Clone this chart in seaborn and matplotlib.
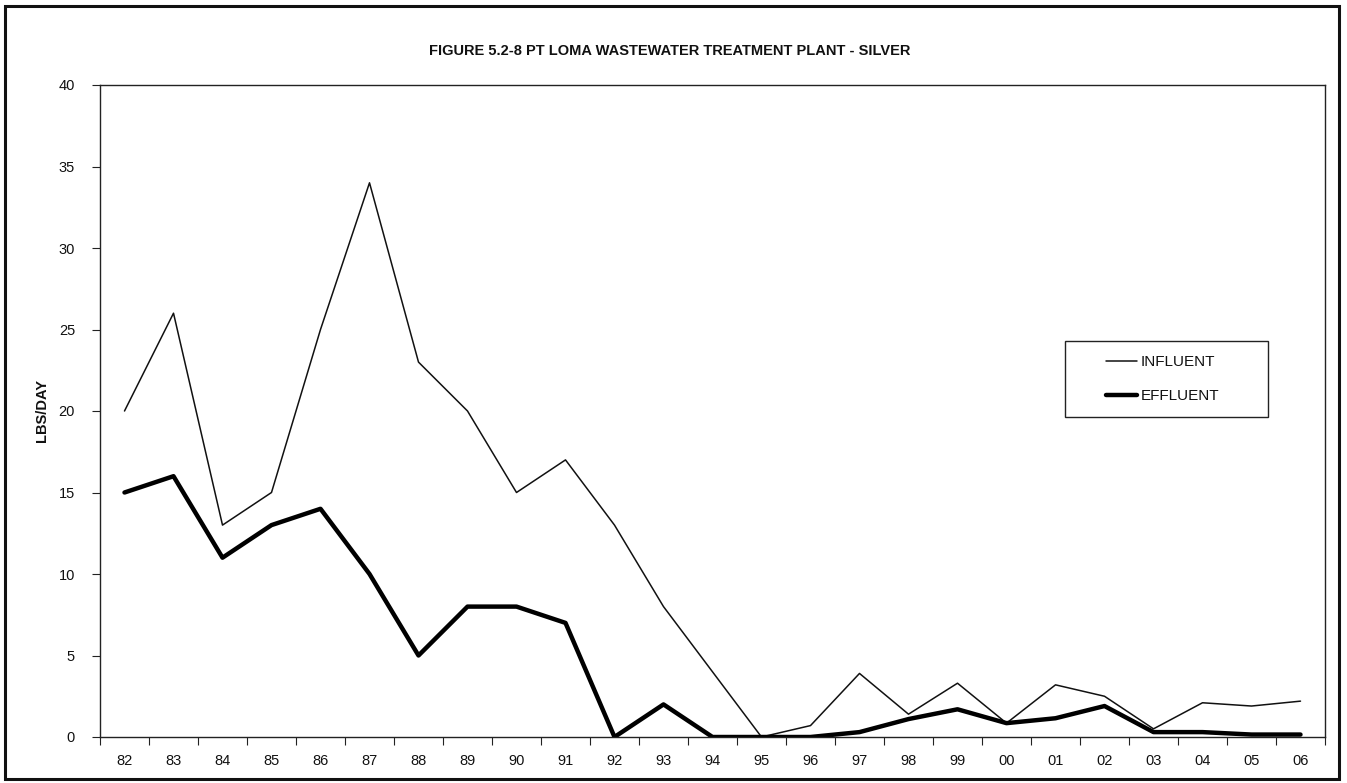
import matplotlib
matplotlib.use("Agg")
import matplotlib.pyplot as plt
from matplotlib.patches import Rectangle
from matplotlib.ticker import FixedLocator, NullFormatter
import seaborn as sns
import pandas as pd

years = ["82", "83", "84", "85", "86", "87", "88", "89", "90", "91", "92", "93",
         "94", "95", "96", "97", "98", "99", "00", "01", "02", "03", "04", "05", "06"]
influent = [20, 26, 13, 15, 25, 34, 23, 20, 15, 17, 13, 8,
            4, 0, 0.7, 3.9, 1.4, 3.3, 0.85, 3.2, 2.5, 0.5, 2.1, 1.9, 2.2]
effluent = [15, 16, 11, 13, 14, 10, 5, 8, 8, 7, 0, 2,
            0, 0, 0, 0.3, 1.1, 1.7, 0.85, 1.15, 1.9, 0.3, 0.3, 0.15, 0.15]
series_names = ["INFLUENT", "EFFLUENT"]
title = "FIGURE 5.2-8 PT LOMA WASTEWATER TREATMENT PLANT - SILVER"
y_label = "LBS/DAY"

df = pd.DataFrame({
    "year": years * 2,
    "lbs": influent + effluent,
    "series": [series_names[0]] * len(years) + [series_names[1]] * len(years),
})

sns.set_theme(style="white")
plt.rcParams["font.family"] = ["Liberation Sans", "DejaVu Sans"]

fig = plt.figure(figsize=(13.47, 7.83), dpi=100)
ax = fig.add_axes([100 / 1347, 46 / 783, 1225 / 1347, 652 / 783])

sns.lineplot(data=df, x="year", y="lbs", hue="series", size="series",
             hue_order=series_names, size_order=series_names,
             palette={"INFLUENT": "#111111", "EFFLUENT": "#000000"},
             sizes={"INFLUENT": 1.1, "EFFLUENT": 3.2},
             sort=False, ax=ax, legend=False)

n = len(years)
ax.set_xlim(-0.5, n - 0.5)
ax.set_ylim(0, 40)
ax.set_yticks(range(0, 41, 5))
ax.set_xticks(range(n))
ax.set_xticklabels(years)
ax.xaxis.set_minor_locator(FixedLocator([i - 0.5 for i in range(n + 1)]))
ax.xaxis.set_minor_formatter(NullFormatter())
ax.tick_params(axis="x", which="major", length=0, pad=12, labelsize=10.5, colors="#111111")
ax.tick_params(axis="x", which="minor", length=6, width=0.8, color="#222222", direction="out", bottom=True)
ax.tick_params(axis="y", length=6, width=0.8, color="#222222", direction="out", left=True,
               pad=12, labelsize=10.5, labelcolor="#111111")
ax.set_xlabel("")
ax.set_ylabel(y_label, fontsize=10.5, fontweight="bold", labelpad=7, color="#111111")

for side in ["left", "bottom", "top", "right"]:
    ax.spines[side].set_visible(True)
    ax.spines[side].set_color("#222222")
    ax.spines[side].set_linewidth(1.0)

# legend entries without their own frame; the box is drawn separately
handles = [plt.Line2D([], [], color="#111111", lw=1.1),
           plt.Line2D([], [], color="#000000", lw=3.2)]
leg = ax.legend(handles, series_names, loc="center left",
                bbox_to_anchor=(0.8212, 0.549), frameon=False,
                handlelength=2.0, handletextpad=0.25, labelspacing=1.3,
                borderpad=0, fontsize=11, borderaxespad=0)
for t in leg.get_texts():
    t.set_color("#111111")
ax.add_patch(Rectangle((0.7878, 0.4908), 0.1657, 0.1166, transform=ax.transAxes,
                       fill=False, edgecolor="#222222", linewidth=1.0, zorder=5))

fig.text(670 / 1347, 1 - 51 / 783, title, ha="center", va="center",
         fontsize=10.5, fontweight="bold", color="#111111")

fig.patches.append(Rectangle((5 / 1347, 4 / 783), 1334 / 1347, 773 / 783,
                             transform=fig.transFigure, fill=False,
                             edgecolor="#111111", linewidth=2.2))

fig.savefig("out.png", dpi=100)
